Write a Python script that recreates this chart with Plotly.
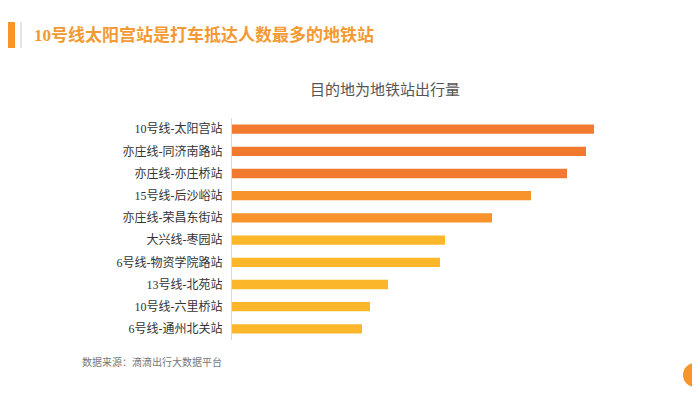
import plotly.graph_objects as go

stations = ["10号线-太阳宫站", "亦庄线-同济南路站", "亦庄线-亦庄桥站", "15号线-后沙峪站",
            "亦庄线-荣昌东街站", "大兴线-枣园站", "6号线-物资学院路站", "13号线-北苑站",
            "10号线-六里桥站", "6号线-通州北关站"]
trips = [362, 354, 335, 299, 260, 213, 208, 156, 138, 130]
bar_colors = ["#F27A2E", "#F27A2E", "#F27A2E", "#F7932A", "#F7932A",
              "#FBB62A", "#FBB62A", "#FBB62A", "#FBB62A", "#FBB62A"]

OFF = 8  # page body offset
FW, FH = 684, 384
L, R, T, B = 224, 42, 110, 52
PW, PH = FW - L - R, FH - T - B


def px(p):
    return (p - OFF - L) / PW


def py(p):
    return 1 - (p - OFF - T) / PH


fig = go.Figure(go.Bar(
    x=trips, y=stations, orientation="h",
    marker=dict(color=bar_colors, line=dict(width=0)),
    width=0.42, hoverinfo="x+y",
))

fig.update_layout(
    width=FW, height=FH,
    margin=dict(l=L, r=R, t=T, b=B),
    paper_bgcolor="white", plot_bgcolor="white",
    showlegend=False,
    font=dict(family="Liberation Serif, Noto Sans CJK SC", color="#333333"),
    xaxis=dict(range=[0, 418], visible=False, fixedrange=True),
    yaxis=dict(autorange="reversed", showgrid=False, showline=True,
               linecolor="#D9D9D9", linewidth=1, ticks="",
               ticklabelstandoff=6,
               tickfont=dict(size=12, color="#333333",
                             family="Liberation Serif, Noto Sans CJK SC")),
    shapes=[
        dict(type="rect", xref="paper", yref="paper", x0=px(5), x1=px(15),
             y0=py(48), y1=py(22),
             fillcolor="#F7952B", line=dict(width=0)),
        dict(type="line", xref="paper", yref="paper", x0=px(21), x1=px(21),
             y0=py(48), y1=py(22),
             line=dict(color="#DDDDDD", width=1.5)),
        dict(type="circle", xref="paper", yref="paper",
             x0=px(683), x1=px(707), y0=py(387), y1=py(363),
             fillcolor="#F7952B", line=dict(width=0)),
    ],
    annotations=[
        dict(text="<b>10号线太阳宫站是打车抵达人数最多的地铁站</b>", xref="paper", yref="paper",
             x=px(32), y=py(35), xanchor="left", yanchor="middle",
             showarrow=False,
             font=dict(size=17, color="#F39A34", family="Liberation Serif, Noto Sans CJK SC")),
        dict(text="目的地为地铁站出行量", xref="paper", yref="paper",
             x=px(385), y=py(88), xanchor="center", yanchor="middle",
             showarrow=False,
             font=dict(size=15, color="#555555", family="Noto Sans CJK SC")),
        dict(text="数据来源：滴滴出行大数据平台", xref="paper", yref="paper",
             x=px(80), y=py(361), xanchor="left", yanchor="middle",
             showarrow=False,
             font=dict(size=10, color="#777777", family="Noto Sans CJK SC")),
    ],
)

fig.write_html("out.html")
